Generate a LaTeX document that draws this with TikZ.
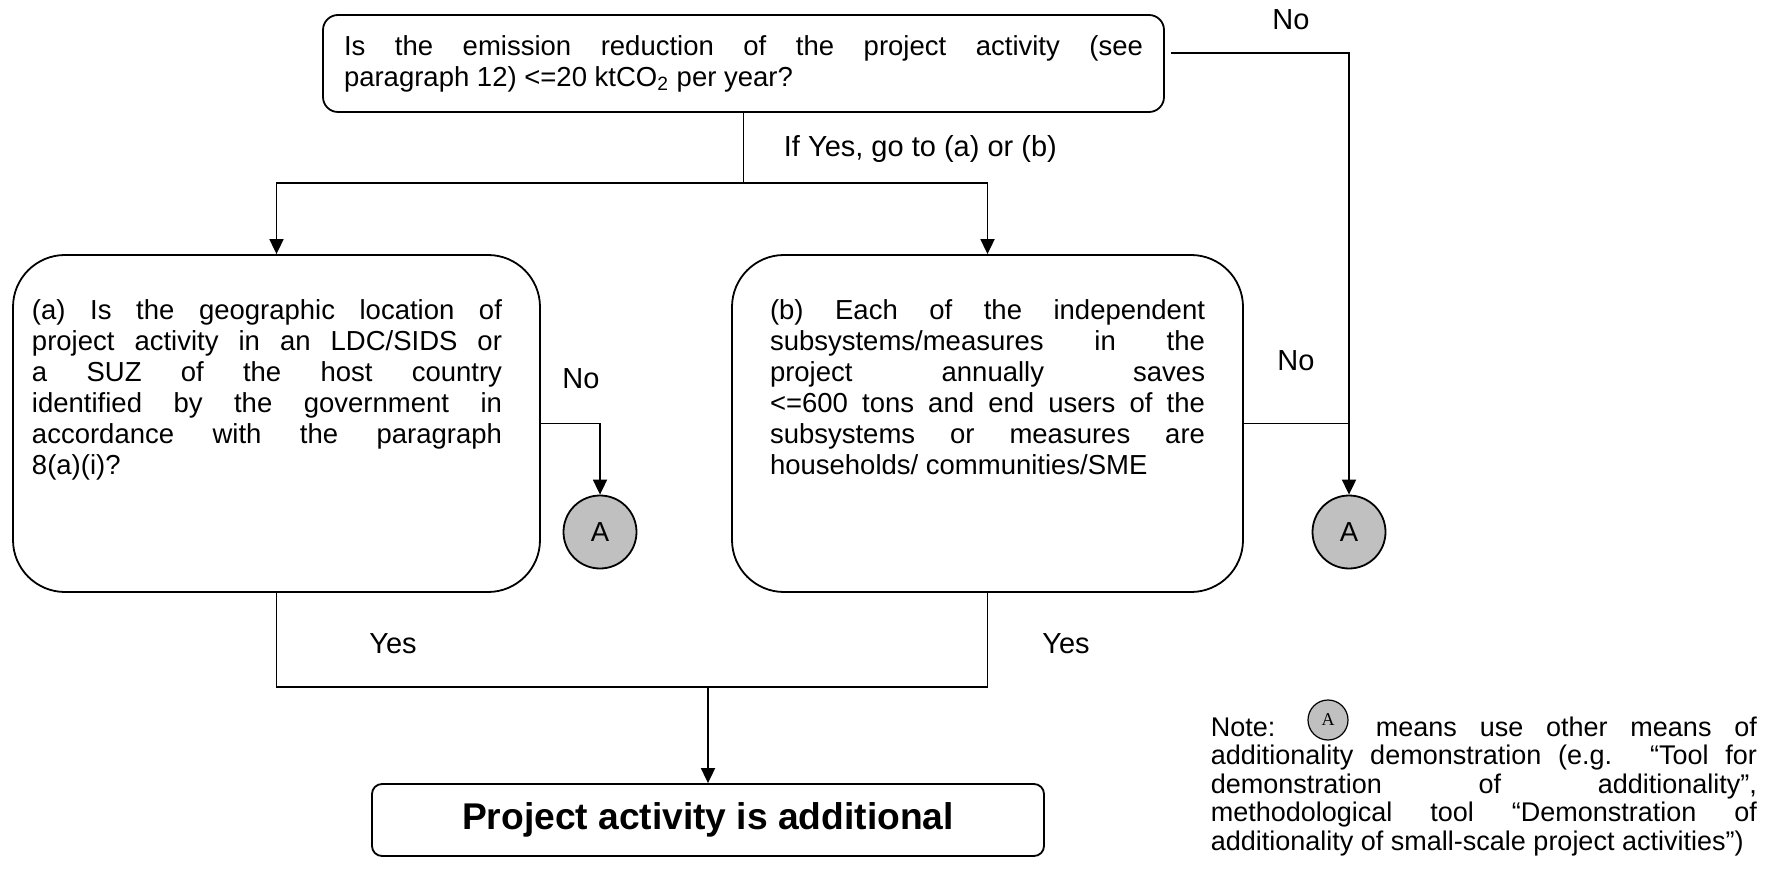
\documentclass[tikz,border=0pt]{standalone}
\usepackage{fontspec}
\setmainfont{Liberation Sans}
\newfontfamily\serifA{Liberation Serif}
\usetikzlibrary{positioning,arrows.meta,calc}
\definecolor{greyA}{RGB}{192,192,192}

\begin{document}
\begin{tikzpicture}[x=0.5pt,y=-0.5pt,line width=0.9pt,
	>={Triangle[length=7.5pt,width=7pt]},
	every node/.style={font=\fontsize{13.75pt}{15.5pt}\selectfont},
	qbox/.style={draw,rounded corners=26pt,minimum width=#1,minimum height=168.5pt},
	txt/.style={text width=#1,align=justify,inner sep=0pt,anchor=north},
	lbl/.style={anchor=base,font=\fontsize{14.5pt}{16pt}\selectfont},
	conn/.style={draw,circle,fill=greyA,minimum size=36.5pt,inner sep=0pt}]
		\useasboundingbox (0,0) rectangle (1782,871);
		% question boxes
		\node[draw,rounded corners=7.5pt,minimum width=420.5pt,minimum height=48.5pt,
		  text width=399.5pt,align=justify,inner sep=0pt] (q0) at (743.5,63.5)
		  {Is the emission reduction of the project activity (see\linebreak
		   paragraph 12) <=20 ktCO\textsubscript{2} per year?};
		\node[qbox=263.5pt] (qa) at (276.5,423.5) {};
		\node[txt=235pt] (ta) at (267,299) {(a) Is the geographic location of\linebreak
		  project activity in an LDC/SIDS or\linebreak a SUZ of the host country\linebreak
		  identified by the government in\linebreak accordance with the paragraph\linebreak
		  8(a)(i)?};
		\node[qbox=255.5pt] (qb) at (987.5,423.5) {};
		\node[txt=217.5pt] (tb) at (987.5,299) {(b) Each of the independent\linebreak
		  subsystems/measures in the\linebreak project annually saves\linebreak
		  <=600 tons and end users of the\linebreak subsystems or measures are\linebreak
		  households/ communities/SME};
		\node[conn] (cA) at (600,532) {A};
		\node[conn] (cB) at (1349,532) {A};
		\node[draw,rounded corners=5pt,minimum width=336pt,minimum height=36pt,
		  font=\bfseries\fontsize{18.6pt}{20pt}\selectfont] (res) at (708,820)
		  {Project activity is additional};
		% labels
		\node[lbl] (no0) at (1291,30) {No};
		\node[lbl] (noA) at (581,388) {No};
		\node[lbl] (noB) at (1296,371) {No};
		\node[lbl] (yesA) at (393,653) {Yes};
		\node[lbl] (yesB) at (1066,653) {Yes};
		\node[lbl,anchor=base west,inner sep=0pt] (ifyes) at (783,157) {If Yes, go to (a) or (b)};
		% note
		\node[txt=273pt,anchor=north west,font=\fontsize{13.5pt}{14.25pt}\selectfont] (note) at (1210,716)
		  {\makebox[82.5pt][l]{Note:}means use other means of\linebreak
		   additionality demonstration (e.g. “Tool for\linebreak
		   demonstration of additionality”,\linebreak
		   methodological tool “Demonstration of\linebreak
		   \mbox{additionality of small-scale project activities”)}};
		\node[conn,minimum size=20pt,line width=0.6pt,font=\serifA\fontsize{9pt}{9pt}\selectfont] (cN) at (1328,720) {A};
		% connectors
		\coordinate (fork) at (743.5,183);
		\coordinate (join) at (708,687);
		\draw (q0) -- (fork);
		\draw[->] (fork) -| (qa);
		\draw[->] (fork) -| (qb);
		\draw ([xshift=3pt,yshift=5.25pt]q0.east) -| (qb.east -| cB);
		\draw[->] (qa.east) -| (cA);
		\draw[->] (qb.east) -| (cB);
		\draw (qa) |- (join) -| (qb);
		\draw[->] (join) -- (res);
\end{tikzpicture}
\end{document}
